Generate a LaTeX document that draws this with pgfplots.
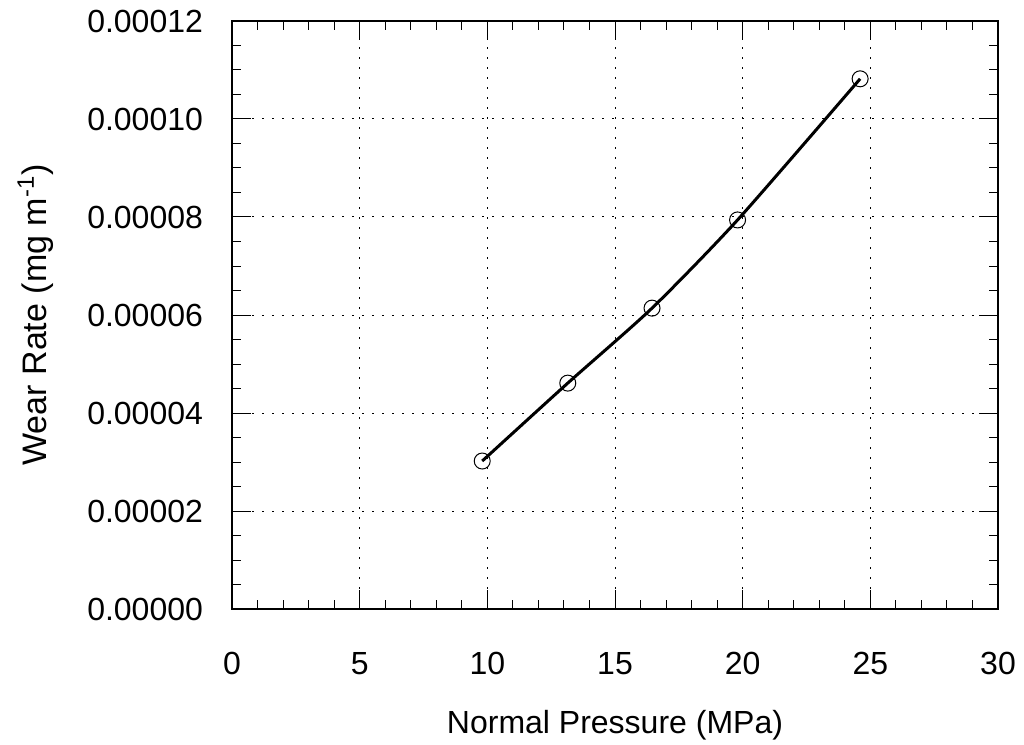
\documentclass[border=0pt]{standalone}
\usepackage{fontspec}
\setmainfont{Liberation Sans}
\usepackage{pgfplots}
\pgfplotsset{compat=1.18}

\begin{document}
\fontsize{16}{19}\selectfont
\begin{tikzpicture}
\begin{axis}[
    scale only axis,
    width=383pt, height=294pt,
    xmin=0, xmax=30, ymin=0, ymax=0.00012,
    xtick={0,5,...,30},
    ytick={0,0.00002,0.00004,0.00006,0.00008,0.0001,0.00012},
    minor x tick num=4,
    minor y tick num=3,
    tick align=inside,
    major tick length=9.5pt,
    minor tick length=4.3pt,
    tick style={line width=0.5pt, black},
    axis line style={line width=0.6pt},
    grid=major,
    major grid style={black, line width=0.5pt, dash pattern=on 1pt off 4pt},
    scaled y ticks=false,
    /pgf/number format/assume math mode=true,
    yticklabel style={/pgf/number format/fixed, /pgf/number format/fixed zerofill, /pgf/number format/precision=5, xshift=-9pt},
    xticklabel style={yshift=-16pt},
    xlabel={Normal Pressure (MPa)},
    ylabel={Wear Rate (mg m\textsuperscript{-1})},
    xlabel style={yshift=-7pt},
    ylabel style={yshift=6pt, font=\fontsize{17}{20}\selectfont},
]
\addplot[black, line width=1.5pt, smooth, tension=0.4,
    mark=o, mark size=4pt, mark options={line width=0.5pt, solid}]
coordinates {
    (9.8, 0.0000302)
    (13.15, 0.0000461)
    (16.45, 0.0000614)
    (19.8, 0.0000794)
    (24.6, 0.0001082)
};
\end{axis}
\pgfresetboundingbox
\path (current axis.south west) ++(-116pt,-67.5pt) coordinate (bbsw);
\path (current axis.north east) ++(13pt,10.5pt) coordinate (bbne);
\useasboundingbox (bbsw) rectangle (bbne);
\end{tikzpicture}
\end{document}
